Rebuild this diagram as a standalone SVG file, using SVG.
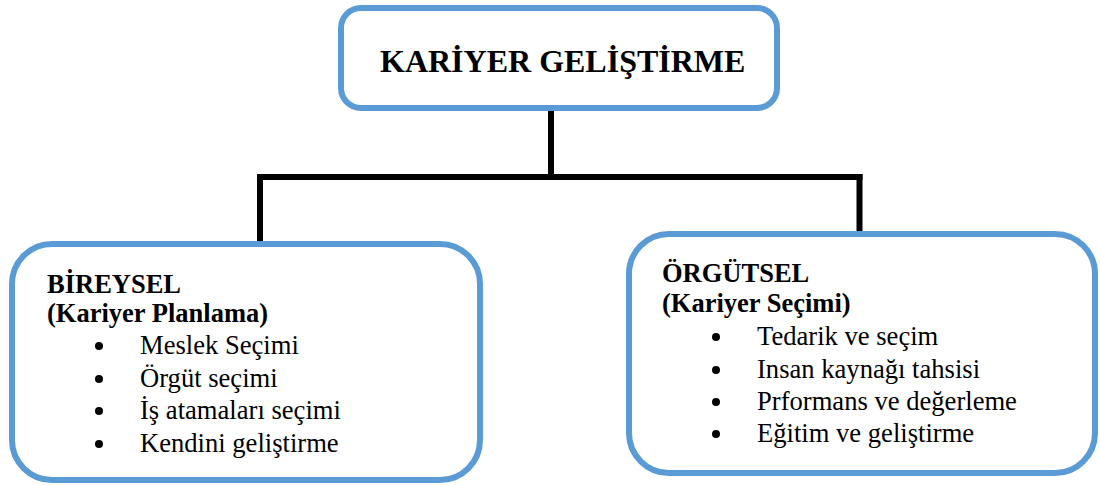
<svg xmlns="http://www.w3.org/2000/svg" width="1100" height="485" viewBox="0 0 1100 485">
  <style>
    .box { fill: #ffffff; stroke: #5b9bd5; stroke-width: 6; }
    .conn { stroke: #000000; stroke-width: 6; fill: none; stroke-linecap: butt; }
    text { font-family: 'Liberation Serif', 'DejaVu Serif', serif; fill: #000; }
    .title { font-weight: bold; font-size: 32px; }
    .head { font-weight: bold; font-size: 26.5px; }
    .item { font-size: 26.6px; }
    .dot { fill: #000; }
  </style>

  <!-- tree connectors -->
  <g id="connectors">
    <line class="conn" x1="551" y1="108" x2="551" y2="177"/>
    <line class="conn" x1="257" y1="177" x2="862.5" y2="177"/>
    <line class="conn" x1="260" y1="174" x2="260" y2="243"/>
    <line class="conn" x1="859.5" y1="174" x2="859.5" y2="235"/>
  </g>

  <!-- root -->
  <g id="root">
    <rect class="box" x="341" y="8" width="436" height="100" rx="20" ry="20"/>
    <text class="title" x="380" y="72">KARİYER GELİŞTİRME</text>
  </g>

  <!-- individual branch -->
  <g id="bireysel">
    <rect class="box" x="12" y="244" width="468" height="236" rx="40" ry="40"/>
    <text class="head" x="47" y="293">BİREYSEL</text>
    <text class="head" x="47" y="322">(Kariyer Planlama)</text>
    <circle class="dot" cx="99" cy="346" r="4"/>
    <circle class="dot" cx="99" cy="379" r="4"/>
    <circle class="dot" cx="99" cy="411" r="4"/>
    <circle class="dot" cx="99" cy="444" r="4"/>
    <text class="item" x="140" y="354">Meslek Seçimi</text>
    <text class="item" x="140" y="387">Örgüt seçimi</text>
    <text class="item" x="140" y="419">İş atamaları seçimi</text>
    <text class="item" x="140" y="452">Kendini geliştirme</text>
  </g>

  <!-- organisational branch -->
  <g id="orgutsel">
    <rect class="box" x="629" y="234" width="466" height="239" rx="40" ry="40"/>
    <text class="head" x="662" y="282">ÖRGÜTSEL</text>
    <text class="head" x="662" y="312">(Kariyer Seçimi)</text>
    <circle class="dot" cx="716" cy="337" r="4"/>
    <circle class="dot" cx="716" cy="370" r="4"/>
    <circle class="dot" cx="716" cy="402" r="4"/>
    <circle class="dot" cx="716" cy="434" r="4"/>
    <text class="item" x="757" y="345">Tedarik ve seçim</text>
    <text class="item" x="757" y="378">Insan kaynağı tahsisi</text>
    <text class="item" x="757" y="410">Prformans ve değerleme</text>
    <text class="item" x="757" y="442">Eğitim ve geliştirme</text>
  </g>
</svg>
